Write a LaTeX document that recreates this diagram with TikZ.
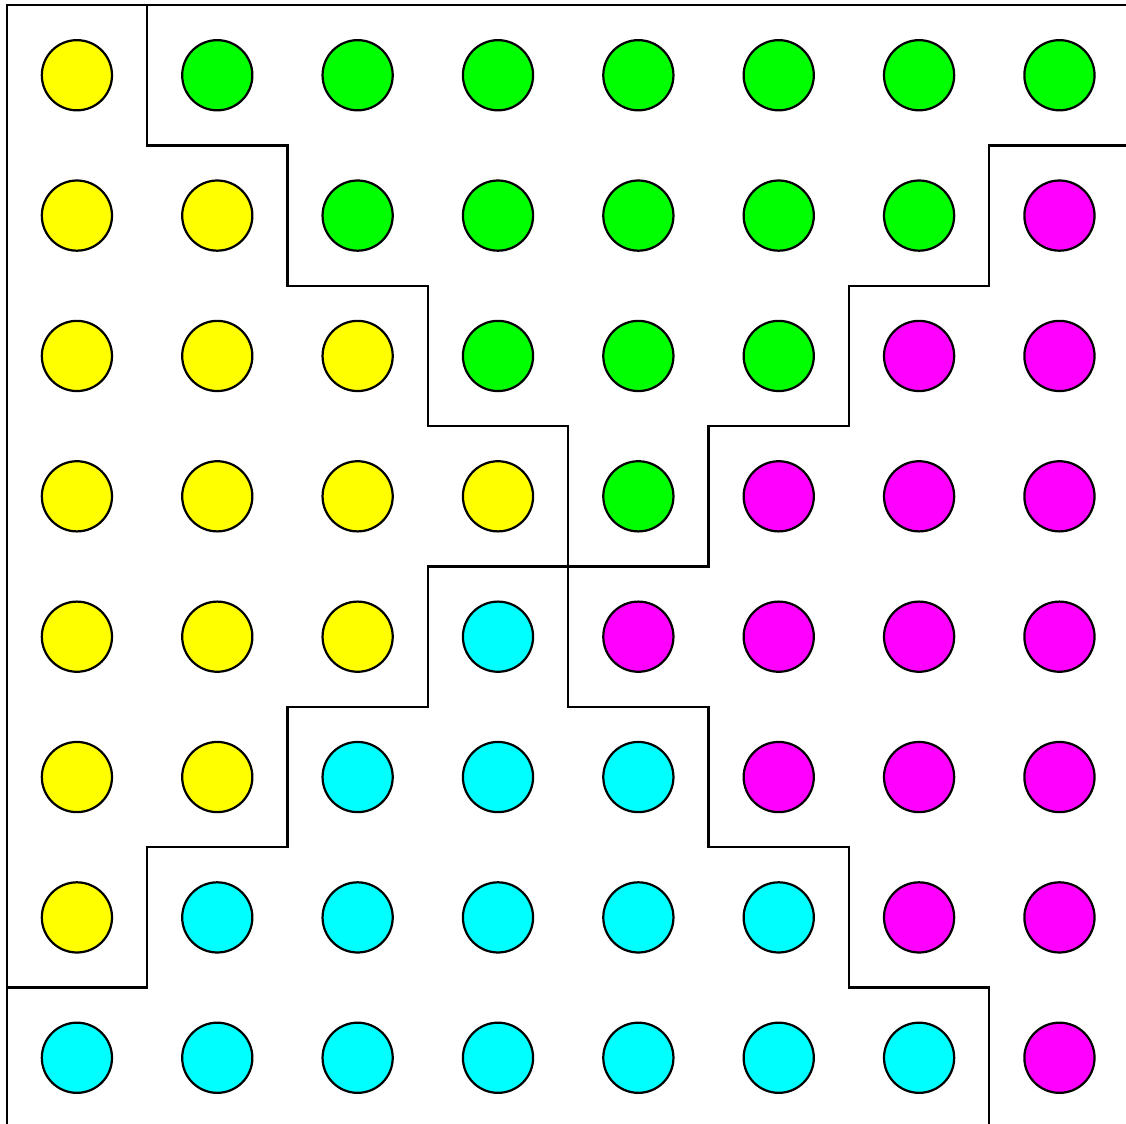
\documentclass[tikz,border=0pt]{standalone}
\usepackage{xcolor}
\usepackage{tikz}
\definecolor{py}{RGB}{255,255,0}
\definecolor{pg}{RGB}{0,255,0}
\definecolor{pm}{RGB}{255,0,255}
\definecolor{pc}{RGB}{0,255,255}

\begin{document}
\begin{tikzpicture}[line width=0.45pt,
  dot/.style={circle,draw=black,line width=0.45pt,minimum size=0.5cm,inner sep=0pt}]
  \clip (-0.048,-7.971) rectangle (7.974,0.036);
  % the counters, row by row from the top
  \foreach \line [count=\r from 0] in {
    {py,pg,pg,pg,pg,pg,pg,pg},
    {py,py,pg,pg,pg,pg,pg,pm},
    {py,py,py,pg,pg,pg,pm,pm},
    {py,py,py,py,pg,pm,pm,pm},
    {py,py,py,pc,pm,pm,pm,pm},
    {py,py,pc,pc,pc,pm,pm,pm},
    {py,pc,pc,pc,pc,pc,pm,pm},
    {pc,pc,pc,pc,pc,pc,pc,pm}}
    \foreach \col [count=\c from 0] in \line
      \node[dot,fill=\col] (d-\r-\c) at (\c+0.5,-\r-0.5) {};
  % frame
  \draw (0,-8) -- (0,0) -- (8,0);
  % borders between the four parts
  \draw (1,0) -- (1,-1) -- (2,-1) -- (2,-2) -- (3,-2) -- (3,-3) -- (4,-3) -- (4,-4);
  \draw (8,-1) -- (7,-1) -- (7,-2) -- (6,-2) -- (6,-3) -- (5,-3) -- (5,-4) -- (4,-4);
  \draw (0,-7) -- (1,-7) -- (1,-6) -- (2,-6) -- (2,-5) -- (3,-5) -- (3,-4) -- (4,-4);
  \draw (4,-4) -- (4,-5) -- (5,-5) -- (5,-6) -- (6,-6) -- (6,-7) -- (7,-7) -- (7,-8);
\end{tikzpicture}
\end{document}
